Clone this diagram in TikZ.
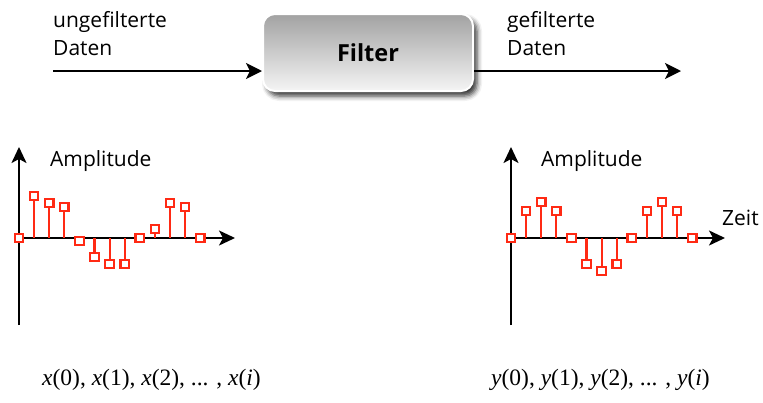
\documentclass[tikz,border=0pt]{standalone}
\usepackage{fontspec}
\setmainfont{Open Sans}
\newfontfamily\timesfont{Liberation Serif}
\usepackage{xcolor}
\definecolor{sampleRed}{HTML}{FF2A14}
\definecolor{filterGray}{HTML}{A2A2A2}
\usepackage{tikz}
\usetikzlibrary{arrows.meta, positioning, shadows.blur}

\begin{document}
\begin{tikzpicture}[
		x=1pt, y=-1pt,
		every node/.style={inner sep=0pt, font=\fontsize{21}{28}\selectfont},
		flow/.style={-{Stealth[length=16pt, width=16pt, inset=4pt]}, line width=2pt},
		axis/.style={-{Stealth[length=16pt, width=15pt, inset=4pt]}, line width=2pt},
		stem/.style={draw=sampleRed, line width=2.2pt},
		sample/.style={draw=sampleRed, fill=white, line width=2.2pt, minimum size=8.5pt, inner sep=0pt},
		filterbox/.style={
			draw=white,
			line width=2pt,
			rounded corners=12pt,
			top color=filterGray,
			bottom color=white!96!black,
			minimum width=210pt,
			minimum height=77pt,
			blur shadow={shadow xshift=4pt, shadow yshift=-5pt, shadow blur radius=5pt, shadow opacity=80},
			font=\fontsize{23.5}{28}\selectfont\bfseries
		}
		]
		\useasboundingbox (0,0) rectangle (763,402);
		
		% filter block with input and output
		\node[filterbox] (filter) at (368,52.5) {Filter};
		\coordinate (in) at (53,71);
		\coordinate (out) at (681,71);
		\draw[flow] (in) -- (filter.west |- in);
		\draw[flow] (filter.east |- out) -- (out);
		\node[anchor=base west, align=left] (inLabel) at (53,55) {ungefilterte\\Daten};
		\node[anchor=base west, align=left] (outLabel) at (507,55) {gefilterte\\Daten};
		
		% input signal
		\coordinate (inOrigin) at (19,238);
		\draw[axis] (19,325) -- (19,147);
		\draw[axis] (inOrigin) -- (235,238);
		\node[anchor=base west] (inAmp) at (50,166) {Amplitude};
		\begin{scope}[shift={(inOrigin)}]
			\foreach \v [count=\i from 0] in {0,42,35,31,-3,-19,-26,-26,0,9,35,31,0} {
				\draw[stem] (\i*15.1,0) -- (\i*15.1,-\v);
				\node[sample] (x\i) at (\i*15.1,-\v) {};
			}
		\end{scope}
		
		% output signal
		\coordinate (outOrigin) at (511,238);
		\draw[axis] (511,325) -- (511,147);
		\draw[axis] (outOrigin) -- (725,238);
		\node[anchor=base west] (outAmp) at (541,166) {Amplitude};
		\node[anchor=base west] (time) at (722,225) {Zeit};
		\begin{scope}[shift={(outOrigin)}]
			\foreach \v [count=\i from 0] in {0,27,36,27,0,-26,-33,-26,0,27,36,27,0} {
				\draw[stem] (\i*15.1,0) -- (\i*15.1,-\v);
				\node[sample] (y\i) at (\i*15.1,-\v) {};
			}
		\end{scope}
		
		% sequences
		\node[anchor=base west, font=\fontsize{23.5}{24}\timesfont] (xSeq) at (42,385)
			{\textit{x}(0), \textit{x}(1), \textit{x}(2), ... , \textit{x}(\textit{i})};
		\node[anchor=base west, font=\fontsize{23.5}{24}\timesfont] (ySeq) at (491,385)
			{\textit{y}(0), \textit{y}(1), \textit{y}(2), ... , \textit{y}(\textit{i})};
		
	\end{tikzpicture}
\end{document}
